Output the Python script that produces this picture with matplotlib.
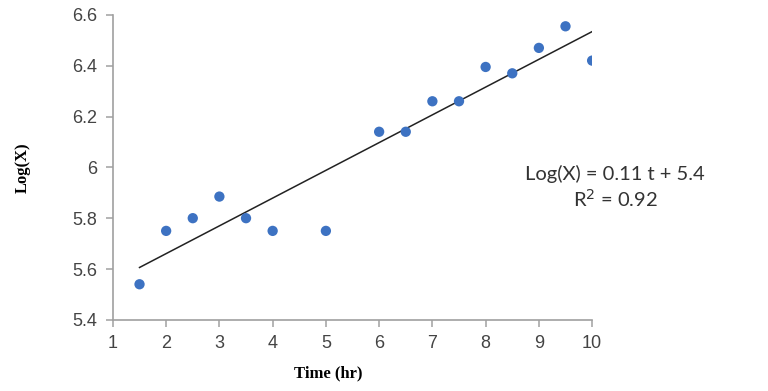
import numpy as np
import matplotlib.pyplot as plt

# data
time_hr = [1.5, 2, 2.5, 3, 3.5, 4, 5, 6, 6.5, 7, 7.5, 8, 8.5, 9, 9.5, 10]
log_x = [5.54, 5.75, 5.80, 5.885, 5.80, 5.75, 5.75, 6.14, 6.14, 6.26, 6.26, 6.395, 6.37, 6.47, 6.555, 6.42]
x_ticks = [1, 2, 3, 4, 5, 6, 7, 8, 9, 10]
y_ticks = [5.4, 5.6, 5.8, 6.0, 6.2, 6.4, 6.6]
y_tick_labels = ['5.4', '5.6', '5.8', '6', '6.2', '6.4', '6.6']

fig = plt.figure(figsize=(7.68, 3.91), dpi=100)
ax = fig.add_axes([0.147, 0.182, 0.624, 0.78])

ax.scatter(time_hr, log_x, s=55, color='#3d72c2', zorder=3, edgecolors='none')

# linear trendline
slope, intercept = np.polyfit(time_hr, log_x, 1)
t = np.array([min(time_hr), max(time_hr)])
ax.plot(t, slope * t + intercept, color='#222222', lw=1.1, zorder=2)

ax.set_xlim(1, 10)
ax.set_ylim(5.4, 6.6)
ax.set_xticks(x_ticks)
ax.set_yticks(y_ticks)
ax.set_yticklabels(y_tick_labels)

for s in ['top', 'right']:
    ax.spines[s].set_visible(False)
for s in ['left', 'bottom']:
    ax.spines[s].set_color('#a0a0a0')
    ax.spines[s].set_linewidth(1.2)
ax.tick_params(colors='#a0a0a0', labelcolor='#444444', direction='out', length=5, width=1.1,
               labelsize=13, pad=6)
for lbl in ax.get_xticklabels() + ax.get_yticklabels():
    lbl.set_family('Liberation Sans')

ax.set_xlabel('Time (hr)', family='Liberation Serif', fontweight='bold', fontsize=12)
ax.set_ylabel('Log(X)', family='Liberation Serif', fontweight='bold', fontsize=12)
ax.xaxis.set_label_coords(0.449, -0.15)
ax.yaxis.set_label_coords(-0.172, 0.5)

ax.text(10.43, 5.974, 'Log(X) = 0.11 t + 5.4', family='Lato', fontsize=14.5, color='#333333',
        ha='center', va='center', clip_on=False)
ax.text(10.43, 5.876, 'R$^2$ = 0.92', family='Lato', fontsize=14.5, color='#333333',
        ha='center', va='center', clip_on=False)

fig.savefig('out.png', dpi=100)
